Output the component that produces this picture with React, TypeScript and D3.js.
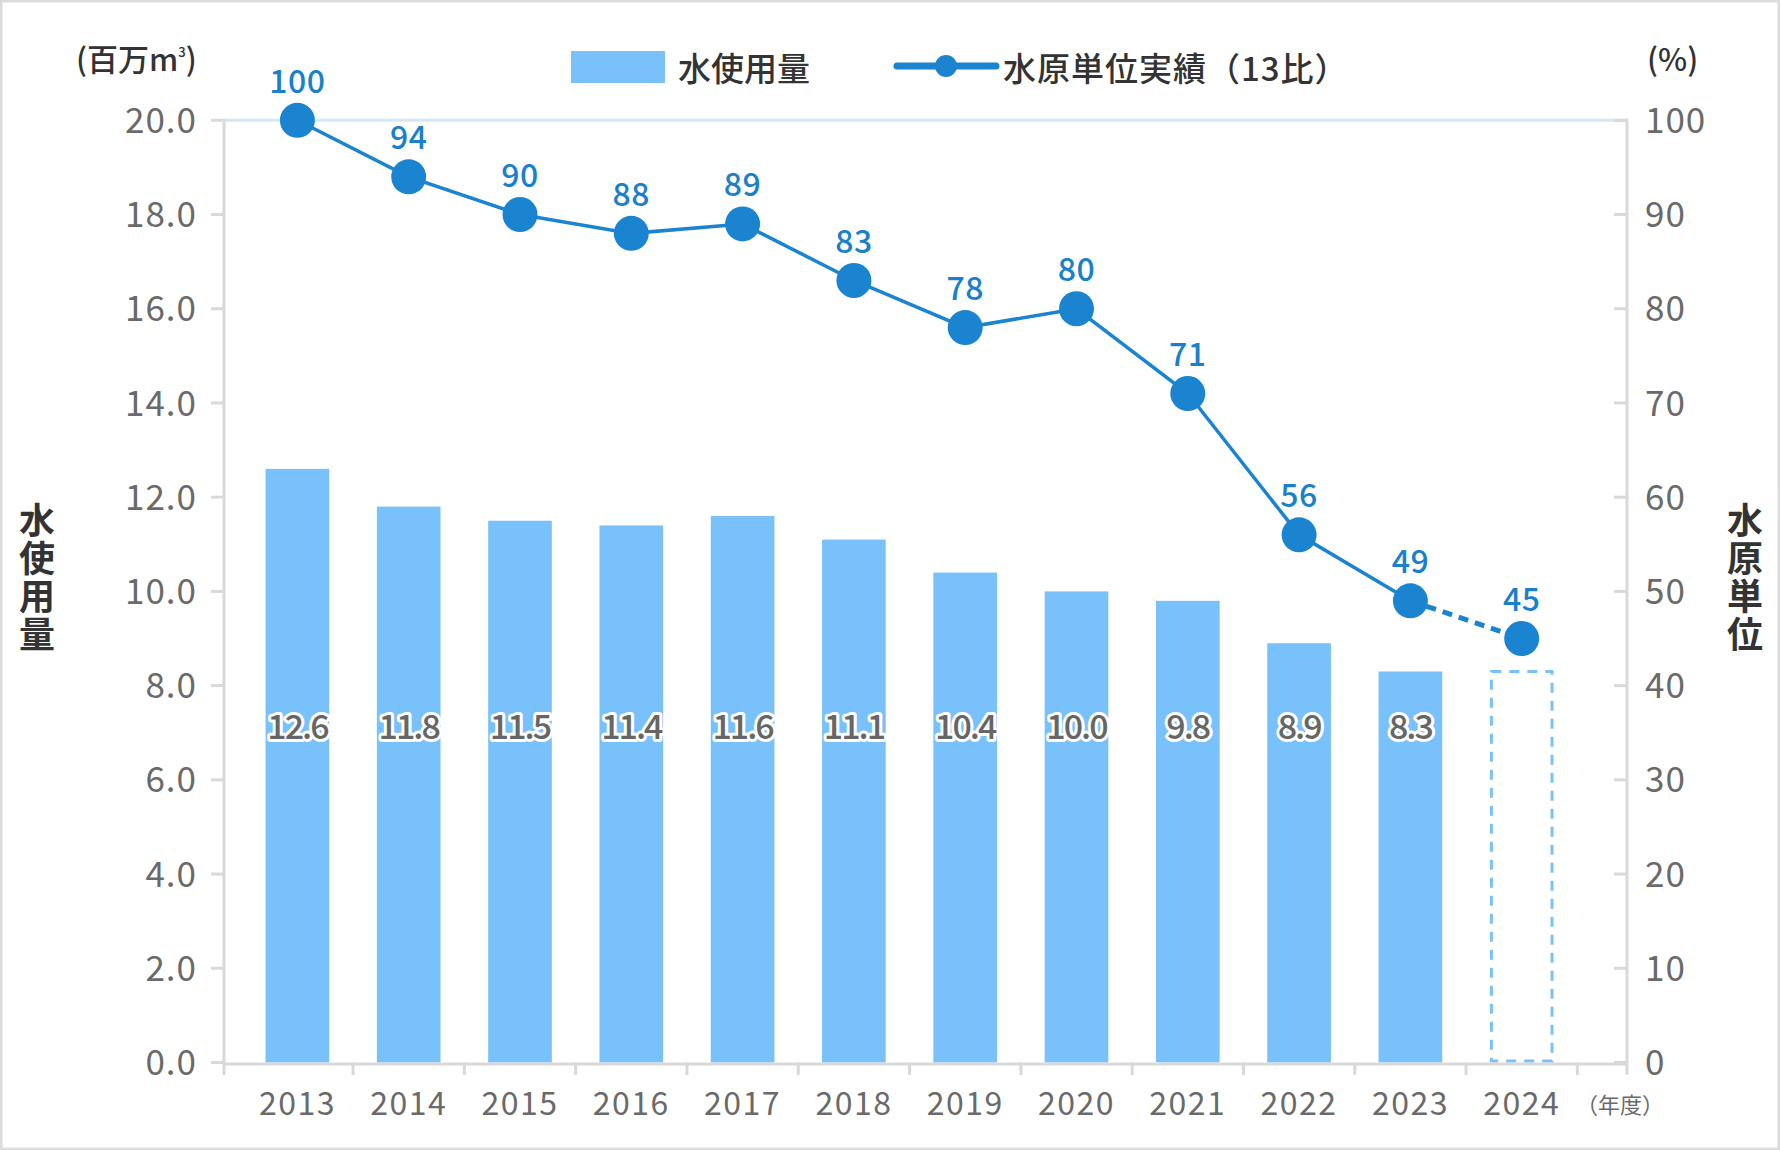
import React from "react";
import * as d3 from "d3";

const years = ["2013","2014","2015","2016","2017","2018","2019","2020","2021","2022","2023","2024"];
const waterUse: (number | null)[] = [12.6, 11.8, 11.5, 11.4, 11.6, 11.1, 10.4, 10.0, 9.8, 8.9, 8.3, null];
const waterUsePlaceholder2024 = 8.3;
const intensity = [100, 94, 90, 88, 89, 83, 78, 80, 71, 56, 49, 45];
const leftTicks = [0, 2, 4, 6, 8, 10, 12, 14, 16, 18, 20];
const rightTicks = [0, 10, 20, 30, 40, 50, 60, 70, 80, 90, 100];
const leftTitle = "水使用量";
const rightTitle = "水原単位";

const W = 1780, H = 1150;
const FONT = "'Noto Sans CJK JP', 'Noto Sans', sans-serif";
const BAR = "#79c1fb";
const LINE = "#1b84d0";
const GRAY = "#6a6a6a";
const AXIS = "#d9d9d9";
const DARK = "#333333";

export default function App() {
  const axL = 224, axR = 1627, y0 = 1062.5, yTop = 120.3;
  const x = d3.scaleBand<string>().domain(years).range([241.75, 1577.35]).padding(0);
  const yL = d3.scaleLinear().domain([0, 20]).range([y0, yTop]);
  const yR = d3.scaleLinear().domain([0, 100]).range([y0, yTop]);
  const bw = x.bandwidth() * 0.572;
  const cx = (y: string) => (x(y) as number) + x.bandwidth() / 2;

  const solidPts: [number, number][] = intensity.slice(0, 11).map((v, i) => [cx(years[i]), yR(v)]);
  const dashPts: [number, number][] = intensity.slice(10, 12).map((v, i) => [cx(years[i + 10]), yR(v)]);
  const line = d3.line();

  return (
    <svg width={W} height={H} style={{ position: "absolute", left: 0, top: 0, display: "block", background: "#fff" }} fontFamily={FONT}>
      <rect x={1} y={1} width={W - 2} height={H - 2} fill="#fff" stroke="#dcdcdc" strokeWidth={3} />

      {/* top gridline */}
      <line x1={axL} x2={axR} y1={yTop} y2={yTop} stroke="#d3e8f6" strokeWidth={3} />

      {/* bars */}
      {years.map((yr, i) => {
        const v = waterUse[i];
        if (v == null) {
          return (
            <rect key={yr} x={cx(yr) - bw / 2 + 1.5} y={yL(waterUsePlaceholder2024)} width={bw - 3}
              height={y0 - yL(waterUsePlaceholder2024) - 1.5} fill="none" stroke={BAR} strokeWidth={3} strokeDasharray="10 8" />
          );
        }
        return <rect key={yr} x={cx(yr) - bw / 2} y={yL(v)} width={bw} height={y0 - yL(v)} fill={BAR} />;
      })}

      {/* bar labels */}
      {years.map((yr, i) => {
        const v = waterUse[i];
        if (v == null) return null;
        return (
          <text key={"bl" + yr} x={cx(yr)} y={yL(7.13)} dy="0.36em" textAnchor="middle" fontSize={34}
            letterSpacing={-2} fontWeight={500} fill="#666" stroke="#fff" strokeWidth={6} strokeLinejoin="round"
            style={{ paintOrder: "stroke" }}>{v.toFixed(1)}</text>
        );
      })}

      {/* axes */}
      <line x1={axL} x2={axL} y1={yTop - 1.5} y2={1075} stroke={AXIS} strokeWidth={3} />
      <line x1={axR} x2={axR} y1={yTop - 1.5} y2={1075} stroke={AXIS} strokeWidth={3} />
      <line x1={axL} x2={axR} y1={y0 + 1.5} y2={y0 + 1.5} stroke={AXIS} strokeWidth={3} />
      {years.map((yr) => {
        const tx = (x(yr) as number) + x.bandwidth();
        return <line key={"xt" + yr} x1={tx} x2={tx} y1={y0} y2={1075} stroke={AXIS} strokeWidth={3} />;
      })}
      {leftTicks.map((t) => (
        <g key={"lt" + t}>
          <line x1={axL - 13} x2={axL} y1={yL(t)} y2={yL(t)} stroke={AXIS} strokeWidth={3} />
          <text x={197} y={yL(t)} dy="0.36em" textAnchor="end" fontSize={35} letterSpacing={1} fill={GRAY}>{t.toFixed(1)}</text>
        </g>
      ))}
      {rightTicks.map((t) => (
        <g key={"rt" + t}>
          <line x1={axR - 13} x2={axR} y1={yR(t)} y2={yR(t)} stroke={AXIS} strokeWidth={3} />
          <text x={1645} y={yR(t)} dy="0.36em" textAnchor="start" fontSize={35} letterSpacing={1} fill={GRAY}>{t}</text>
        </g>
      ))}
      {years.map((yr) => (
        <text key={"xl" + yr} x={cx(yr)} y={1103} dy="0.36em" textAnchor="middle" fontSize={32} letterSpacing={1.5} fill={GRAY}>{yr}</text>
      ))}
      <text x={1576} y={1105} dy="0.36em" fontSize={22} fill={GRAY}>（年度）</text>

      {/* line */}
      <path d={line(solidPts) || ""} fill="none" stroke={LINE} strokeWidth={3.5} />
      <path d={line(dashPts) || ""} fill="none" stroke={LINE} strokeWidth={5} strokeDasharray="10 7" />
      {intensity.map((v, i) => (
        <g key={"pt" + i}>
          <circle cx={cx(years[i])} cy={yR(v)} r={17.5} fill={LINE} />
          <text x={cx(years[i])} y={yR(v) - 39} dy="0.36em" textAnchor="middle" fontSize={32} letterSpacing={0.5} fill="#1a80cb" fontWeight={500}>{v}</text>
        </g>
      ))}

      {/* units */}
      <text x={76} y={60} dy="0.36em" fontSize={31} fill={DARK} fontWeight={500}>(百万m<tspan fontSize={13} dy={-14}>3</tspan><tspan dy={14}>)</tspan></text>
      <text x={1647} y={60} dy="0.36em" fontSize={31} fill={DARK} fontWeight={500}>(%)</text>

      {/* legend */}
      <rect x={571} y={51} width={94} height={32} fill={BAR} />
      <text x={678} y={69} dy="0.36em" fontSize={33} fill={DARK} fontWeight={500}>水使用量</text>
      <line x1={897} x2={996} y1={66} y2={66} stroke={LINE} strokeWidth={7} strokeLinecap="round" />
      <circle cx={946} cy={66} r={11} fill={LINE} />
      <text x={1003} y={69} dy="0.36em" fontSize={33} letterSpacing={1} fill={DARK} fontWeight={500}>水原単位実績（13比）</text>

      {/* vertical titles */}
      <text x={37} y={502} fontSize={36} fontWeight={700} fill={DARK}
        style={{ writingMode: "vertical-rl", textOrientation: "upright" } as React.CSSProperties} letterSpacing={2}>{leftTitle}</text>
      <text x={1745} y={502} fontSize={36} fontWeight={700} fill={DARK}
        style={{ writingMode: "vertical-rl", textOrientation: "upright" } as React.CSSProperties} letterSpacing={2}>{rightTitle}</text>
    </svg>
  );
}
